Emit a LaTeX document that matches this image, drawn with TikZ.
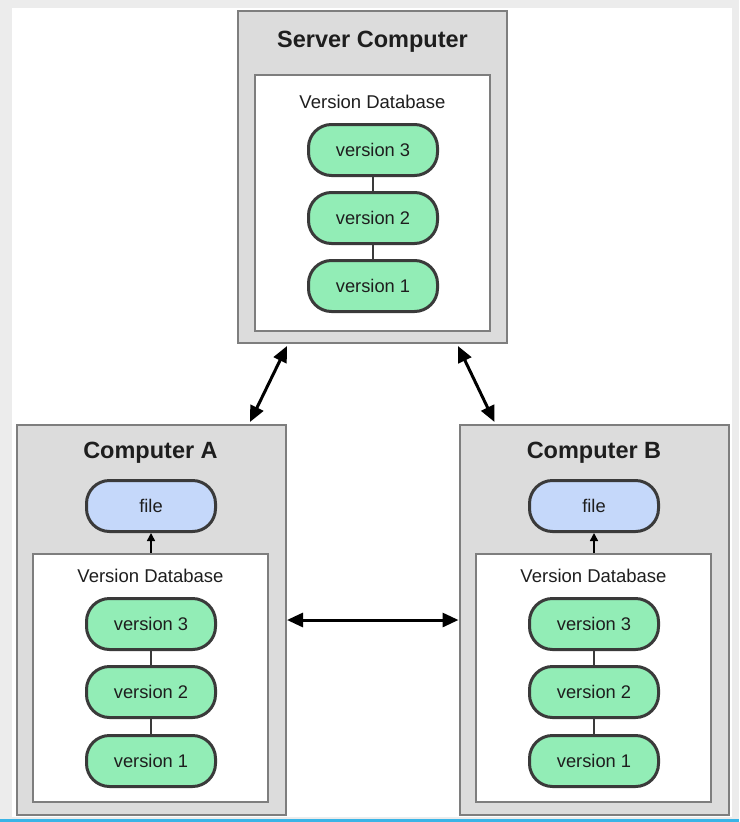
\documentclass[tikz,border=0pt]{standalone}
\usepackage{fontspec}
\setmainfont{Liberation Sans}
\usetikzlibrary{arrows.meta,calc}
\definecolor{framegray}{HTML}{ECECEC}
\definecolor{boxgray}{HTML}{DCDCDC}
\definecolor{boxline}{HTML}{7E7E7E}
\definecolor{pillgreen}{HTML}{92EDB6}
\definecolor{pillblue}{HTML}{C5D8FA}
\definecolor{pillline}{HTML}{3A3A3A}
\definecolor{txt}{HTML}{1E1E1E}
\definecolor{bline}{HTML}{3AB4E6}
\tikzset{
  outerbox/.style={draw=boxline, fill=boxgray, line width=2pt, minimum width=269pt, minimum height=390pt, inner sep=0pt},
  innerbox/.style={draw=boxline, fill=white, line width=2pt, minimum width=235pt, inner sep=0pt},
  pill/.style={draw=pillline, line width=3pt, rounded corners=23pt, minimum width=129pt, minimum height=51pt, inner sep=0pt, text=txt, font=\fontsize{18.3}{21}\selectfont},
  ver/.style={pill, fill=pillgreen},
  filepill/.style={pill, fill=pillblue},
  title/.style={text=txt, font=\bfseries\fontsize{23.5}{26}\selectfont, inner sep=0pt},
  dblabel/.style={text=txt, font=\fontsize{18.5}{21}\selectfont, inner sep=0pt},
  link/.style={draw=pillline, line width=1.5pt},
  small/.style={draw=black, line width=1.5pt, -{Triangle[length=8pt,width=8pt]}},
  big/.style={draw=black, line width=3pt, {Triangle[length=16pt,width=14pt]}-{Triangle[length=16pt,width=14pt]}}
}
\begin{document}
\begin{tikzpicture}[x=1pt,y=-1pt]
\useasboundingbox (0,0) rectangle (739,822);
\fill[framegray] (0,0) rectangle (739,822);
\fill[white] (12,8) rectangle (732,817);
\fill[bline] (0,819) rectangle (739,822);

% Server
\node[outerbox, minimum height=332pt] (srv) at (372.5,177) {};
\node[title] (srvt) at (372.5,42) {Server Computer};
\node[innerbox, minimum height=256pt] (srvdb) at (372.5,203) {};
\node[dblabel] (srvdbl) at (372.5,102) {Version Database};
\node[ver] (s3) at (373,150) {version 3};
\node[ver] (s2) at (373,218) {version 2};
\node[ver] (s1) at (373,286) {version 1};
\draw[link] (s3) -- (s2);
\draw[link] (s2) -- (s1);

% Computer A
\node[outerbox] (ca) at (151.5,620) {};
\node[title] (cat) at (150.5,453) {Computer A};
\node[filepill] (af) at (151,506) {file};
\node[innerbox, minimum height=248pt] (adb) at (150.5,678) {};
\node[dblabel] (adbl) at (150.5,576) {Version Database};
\node[ver] (a3) at (151,624) {version 3};
\node[ver] (a2) at (151,692) {version 2};
\node[ver] (a1) at (151,761) {version 1};
\draw[link] (a3) -- (a2);
\draw[link] (a2) -- (a1);
\draw[small] (adb.north -| af.south) -- (af.south);

% Computer B
\node[outerbox] (cb) at (594,620) {};
\node[title] (cbt) at (594,453) {Computer B};
\node[filepill] (bf) at (594,506) {file};
\node[innerbox, minimum height=248pt] (bdb) at (593.5,678) {};
\node[dblabel] (bdbl) at (593.5,576) {Version Database};
\node[ver] (b3) at (594,624) {version 3};
\node[ver] (b2) at (594,692) {version 2};
\node[ver] (b1) at (594,761) {version 1};
\draw[link] (b3) -- (b2);
\draw[link] (b2) -- (b1);
\draw[small] (bdb.north -| bf.south) -- (bf.south);

% connectors
\coordinate (sa) at ($(srv.south west)+(50,2)$);
\coordinate (as) at ($(ca.north west)+(234,-2)$);
\coordinate (sb) at ($(srv.south east)+(-50,2)$);
\coordinate (bs) at ($(cb.north west)+(36,-2)$);
\draw[big] (sa) -- (as);
\draw[big] (sb) -- (bs);
\draw[big] (ca.east) -- (cb.west);
\end{tikzpicture}
\end{document}
